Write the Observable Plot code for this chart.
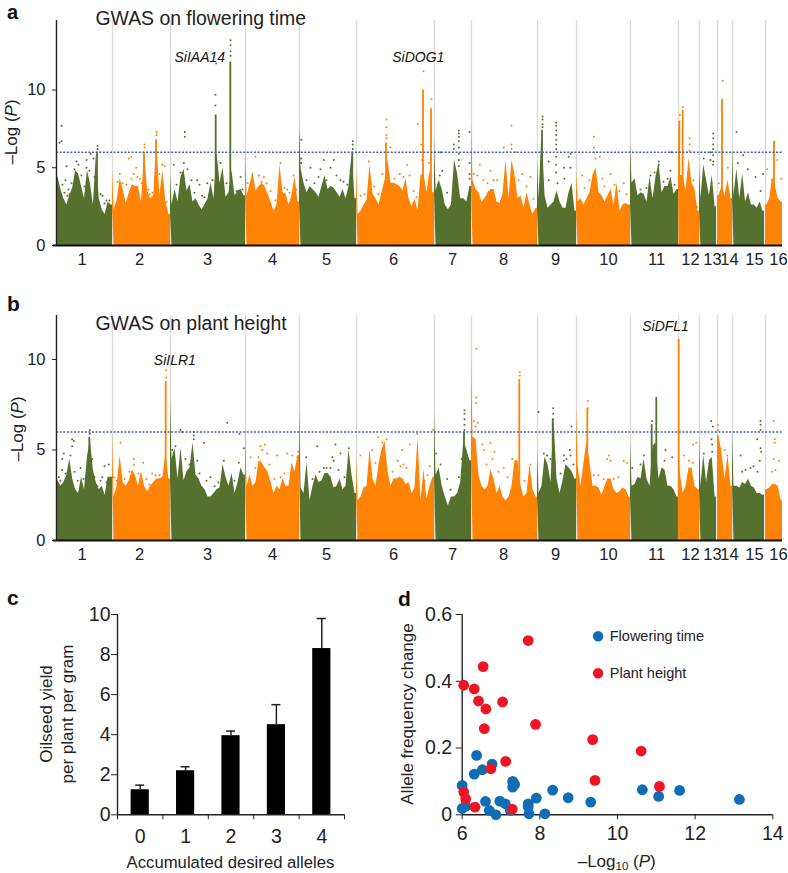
<!DOCTYPE html>
<html>
<head>
<meta charset="utf-8">
<script src="https://cdn.jsdelivr.net/npm/d3@7"></script>
<script src="https://cdn.jsdelivr.net/npm/@observablehq/plot@0.6"></script>
<style>
html,body{margin:0;padding:0;background:#fff}
#page{position:relative;width:788px;height:873px;overflow:hidden;font-family:"Liberation Sans",sans-serif;color:#222}
#page>svg,#page>figure{position:absolute;margin:0}
.t{position:absolute;white-space:nowrap;line-height:1}
.letter{font-weight:bold;font-size:21px;color:#111;line-height:.8}
.rot{transform:translate(-50%,-50%) rotate(-90deg);font-size:17px;text-align:center}
.h{transform:translate(-50%,-50%);font-size:17px}
.s{font-size:11.5px;position:relative;top:3px}
</style>
</head>
<body>
<div id="page"></div>
<script>
// Chromosomes (shared genome position axis)
const chrNames = ["1","2","3","4","5","6","7","8","9","10","11","12","13","14","15","16"];
const chrStarts = [0,56,114,189,243,300,378,415,481,520,574,622,643,661,676,709];
const chrEnds   = [56,114,189,243,300,378,415,481,520,574,622,643,660,676,708,726];
const chrLabelPos = [25.7,83,151,216,270,337,396,447,499,552,600,634,656,673,698,722];
const green = "#56702d", orange = "#ff8305";

// Panel a: envelope of the dense point mass, chromosome by chromosome
const massA = [
 [4.4,3.6,3.0,2.6,3.2,3.7,4.8,4.6,3.8,3.0,4.8,4.0,2.6,5.8,3.0,2.3,2.0,2.8,2.6],
 [2.3,2.9,4.3,3.6,2.7,3.4,3.9,3.8,3.8,2.8,6.0,3.5,3.0,3.2,6.8,3.2,4.8,2.8,2.0],
 [2.6,3.6,2.8,4.4,4.9,3.5,3.9,2.8,3.0,2.6,2.3,2.6,3.0,4.0,3.0,6.0,4.0,5.0,3.1,3.4,4.8,3.2,3.5,3.6,3.2],
 [3.2,3.9,4.7,3.5,3.8,4.0,3.8,3.3,2.8,2.2,2.6,5.2,3.4,3.3,2.6,3.2,4.4,2.8],
 [5.0,4.0,3.4,3.8,3.6,3.4,3.1,3.8,4.5,3.6,3.8,3.7,3.4,3.1,3.6,3.0,3.8,5.9,3.0],
 [2.0,2.2,2.6,2.9,5.2,3.3,3.0,2.6,3.4,4.2,5.5,4.0,4.0,3.9,3.8,3.5,4.3,3.0,2.5,3.0,2.2,4.5,4.6,3.4,4.8,3.4],
 [3.5,4.2,3.6,2.6,2.3,2.6,5.5,4.6,3.0,3.0,2.8,3.8],
 [4.2,3.6,3.4,2.8,3.0,3.4,3.6,3.6,2.8,2.7,3.3,5.5,3.0,5.5,4.5,3.0,3.2,2.4,3.4,2.6,2.0,2.4],
 [3.0,7.4,3.2,2.4,2.6,2.8,3.5,2.8,2.4,2.4,3.4,4.0,2.2],
 [2.8,3.0,2.6,3.0,3.4,4.5,5.0,3.4,3.2,2.8,3.2,3.6,2.6,4.0,2.2,2.6,2.7,2.6],
 [4.0,4.3,3.2,3.4,3.3,2.8,4.4,3.0,4.4,5.3,3.4,3.8,3.8,4.4,3.3,3.6],
 [4.5,4.5,3.5,5.6,4.0,3.6,2.2],
 [3.0,5.2,4.2,3.2,4.5,2.5],
 [3.2,3.8,3.2,4.2,3.0],
 [3.2,4.9,3.0,4.6,2.8,3.4,2.6,2.6,2.4,2.8,2.2],
 [2.6,3.0,4.4,3.8,3.0,2.8]
];
const spikesA = [[174.3,11.8],[159.7,8.4],[330,6.6],[367,10],[375,8.8],[623.3,8],[626.7,8.7],[666,9.4],[718,6.7],[41,6],[296.3,6],[486,7.4],[100,6.8],[88,6]];
const outliersA = [
 [3,6.6],[5,6.7],[5,7.7],[10,5.1],[20,5.4],[22,5.2],[30,5.5],[30,5],[34,5.9],[37,5.6],[41,6.4],[41,6.2],[15,4],[12,3.6],[9,4.2],[11,3.2],[33,4.8],[46,3.2],[50,2.9],[53,2.9],
 [6,3.9],[8,3.4],[13,3.3],[18,4.9],[25,4.5],[28,3.8],[38,4.4],[44,3.3],[48,2.7],
 [72.3,5.6],[74.7,5.7],[79.7,5],[88,6.5],[88,6.3],[100,7.3],[100,7.1],[105.7,5.2],[108,5.1],[63.3,4.6],[77.3,4.6],[83.3,4.3],[93.3,3.3],[104,3.6],
 [61,4.1],[66,4],[70,3.9],[75,4.3],[81,4.4],[85,4],[92,3.6],[96,3.4],[103,4.6],[110,2.8],
 [128.3,7.3],[128.3,7],[127.3,5.3],[117.3,5.2],[159,9.7],[159,9],[159.7,11.7],[174,13.2],[174,12.9],[174,12.5],[174,12.2],[140.7,4.2],[150.7,4],[184,4.4],[145.7,3.2],
 [120,3.9],[124,4.7],[131,4.9],[135,4.2],[138,3.4],[143,3.9],[148,3.1],[153,3.2],[156,4.2],[164,5.3],[170,4],[180,3.5],[186,3.6],
 [199,5.7],[224,5.3],[207.3,4.4],[202.3,4.5],[237.3,4.5],[230.7,3.6],
 [191,4],[196,4.6],[205,4.1],[210,4],[214,3.5],[219,2.9],[228,3.7],[233,3.4],[240,3.6],
 [244.7,6.8],[244.7,5.6],[244.7,5.3],[254,5],[267.3,5.5],[274,5],[277.3,5.5],[296.3,6.7],[296.3,6.5],[296.3,6.2],[294,4.8],[264,4.9],[284,4.2],
 [250,4.2],[258,4],[262,4.4],[270,4.2],[280,4.5],[287,4.1],[291,3.9],
 [330,8.1],[330,7.6],[330,7.1],[330,6.9],[334,6.3],[350.7,5.2],[343.3,4.6],[361.3,7.8],[364.7,6.5],[367,11.2],[375,9.4],[365.7,5.5],[372.3,5.3],[312.3,5.4],
 [304,3.2],[308,3.3],[318,3.8],[322,3.3],[326,4.6],[338,4.3],[347,4.4],[353,4.5],[357,3.5],[360,3.1],
 [384,6],[397.3,6.5],[397.3,6.2],[402.3,7.4],[402.3,7.2],[402.3,7],[402.3,6.7],[402.3,6.3],[402.3,5.9],[402.3,5.5],[402.3,5.1],[413,7.3],[413,5.3],[413,4.6],[413,4.3],[385.7,4.8],[383.3,4.5],[390.7,3.4],[393.3,2.4],
 [455,7.7],[455,6.5],[455,6.2],[447.3,6.3],[423.3,5.2],[434,4.8],[417.3,4.6],[440.7,4.2],[465.7,4.6],[474,4.4],[459,6],
 [421,4.5],[427,4.2],[431,4],[437,4.2],[462,4.2],[470,3.8],[477,3],
 [486,8.3],[486,8.1],[486,7.8],[486,7.6],[499.7,7.9],[499.7,7.7],[499.7,7.4],[499.7,7.1],[499.7,6.8],[499.7,6.5],[499.7,6.2],[499.7,5.7],[499.7,5.2],[499.7,4.7],[492.3,5.4],[492.3,4.2],[507.3,5],[514,5.9],[512.3,5.7],[514,5],[508,4.3],[501,4],
 [537.3,7],[537.3,6.3],[537.3,6],[539,5.6],[543.3,5.7],[525.7,4.5],[554,4.6],[545.7,4.3],[567.3,4],
 [528,3.7],[533,4.2],[548,3.8],[558,3.9],[563,3.5],[570,3.3],
 [602.3,5.4],[614.7,6],[614,4.8],[594,4.5],[602.3,5.2],
 [584,3.6],[590,3.7],[598,4.7],[607,4.1],[611,4.3],[618,3.9],
 [626.7,8.9],[623.3,8.4],[633,6.9],[633,6.5],[633,6.1],[636.7,4.2],[640.7,2.5],
 [656.7,7.2],[656.7,6.9],[656.7,6.5],[656.7,6.2],[656.7,5.8],[656.7,5.4],[656.7,5.2],[647.3,5.6],[654,5.5],[654,6],
 [666.3,10.6],[671.3,5],[662.3,4],
 [680,7.3],[686.7,5.8],[681.3,5.3],[691.3,4.9],[706.7,4.6],[699,4.4],[704,3.5],
 [718,6.6],[710.7,4.9],[720.7,5.5],[724.7,4.3],[715.7,4.2]
];

// Panel b
const massB = [
 [3.3,3.0,3.2,3.6,4.5,3.4,2.8,2.6,3.5,2.8,4.6,5.6,3.9,3.2,2.8,3.0,2.5,3.5,3.5],
 [2.4,3.0,4.7,3.2,3.0,3.3,3.9,3.6,3.0,3.8,3.0,2.7,3.0,3.2,3.4,3.4,3.5,4.8,3.4],
 [4.5,5.1,3.4,5.1,3.3,3.8,4.0,5.4,3.6,3.4,3.0,2.8,2.4,2.4,2.6,2.8,2.9,4.2,3.5,3.0,3.7,2.6,3.2,4.0,3.6],
 [3.0,3.6,3.0,3.2,4.4,4.3,4.0,3.8,3.2,2.6,3.0,2.8,3.4,3.0,3.0,4.3,3.8,4.7],
 [2.9,2.6,4.3,2.2,3.0,3.6,3.2,3.3,3.7,3.7,3.5,2.9,3.0,3.4,2.8,3.0,5.0,3.6,2.6],
 [2.2,2.4,2.9,3.0,5.0,3.4,3.0,4.2,5.0,5.5,3.8,3.0,3.4,3.4,3.5,3.4,3.1,3.2,2.6,2.9,5.7,2.2,3.9,2.3,3.0,3.5],
 [3.6,4.0,3.0,2.4,1.9,2.4,2.4,2.6,3.2,5.5,5.0,4.4],
 [5.7,5.6,3.6,3.0,2.8,3.0,3.9,3.4,2.6,3.0,2.4,2.2,2.4,3.0,4.4,4.4,3.0,2.4,2.6,4.2,2.8,2.4],
 [2.6,3.0,4.6,4.2,3.2,6.7,3.4,2.6,3.3,4.2,4.0,3.8,3.4],
 [4.1,3.0,4.3,5.5,4.3,3.0,3.0,2.9,2.5,3.0,3.4,3.4,2.8,2.6,2.7,2.9,2.8,2.4],
 [3.0,3.1,3.5,3.4,4.5,3.4,3.0,5.2,5.4,3.4,4.0,3.9,3.0,3.0,2.8,2.4],
 [3.9,2.6,3.0,4.0,4.0,3.0,2.8],
 [3.0,4.7,3.2,4.4,4.6,2.4],
 [5.8,4.8,3.4,4.7,3.0],
 [3.0,3.0,2.9,3.2,3.1,3.4,3.0,2.9,2.6,2.6,2.5],
 [2.8,2.9,3.1,3.1,3.0,2.2]
];
const spikesB = [[109.7,8.8],[33.3,5.7],[463.3,8.9],[531.3,7.3],[600.3,7.9],[595.7,6.4],[622.7,11.1],[408,6],[496.7,6.7]];
const outliersB = [
 [33.3,6.1],[33.3,5.9],[17.3,5.5],[15.7,5.6],[15.7,5.2],[7.3,4.8],[5.7,4.5],[14,4.7],[24,4],[48,4.1],[52.3,4.2],[35.7,4.5],[45.7,3.5],[44,3.3],[2.3,3.5],[5.7,3.9],[21.3,3.3],
 [4,3.3],[9,3.7],[18,3.8],[27,3.4],[38,3.5],[41,3],[50,3.2],
 [64,5.4],[77.3,4.5],[86.7,4.3],[57.3,3.5],[95.7,3.7],[99,3.6],[77.3,4.2],[109.7,9.4],[109.7,9],
 [60,3.3],[68,3.4],[73,3.8],[82,3.7],[90,3.4],[93,3.1],[103,3.6],
 [125.7,6],[124,6.1],[137.3,6],[137.3,5.8],[137.3,5.6],[147.3,5.4],[170.7,6.5],[183,5.9],[187.3,5.1],[115.7,5],[119,5.2],[129,4.5],[140.7,4.4],[167.3,4.4],[182.3,4.3],[154,3.5],
 [133,4.2],[143,3.7],[150,3.3],[158,3],[162,3.2],[175,3.4],[178,3.3],
 [204,5.2],[208.3,5.3],[194,4.6],[210.7,4.8],[230.7,4.8],[235.7,4.7],[241.7,4.9],[220.7,4.7],[240.7,4.6],[205.7,5],
 [199,4],[202,4.6],[213,4.2],[218,3.4],[224,3.5],[228,3.7],
 [260.7,5.2],[279,5.3],[275.7,4.6],[277.3,4.4],[284,4.8],[249.7,4.6],[267.3,4],[274,4],[292.3,5.1],
 [256,3.4],[263,3.8],[270,4],[282,3.9],[288,3.5],
 [304,4.7],[321.7,5.7],[325.7,5.4],[330,5.6],[315.7,5],[345.7,5],[353.3,5.3],[360.7,5.9],[376.7,6.1],[373.3,4.1],[341.3,4.4],[350,4],
 [319,4.3],[336,3.8],[344,4.1],[347,4.2],[368,3.3],[371,3.6],
 [379.7,4.8],[384,4.2],[390.7,3.4],[402.3,3.5],[408,7.2],[408,7],[408,6.7],[408,6.4],[408,6.1],[405,4.5],[394,2.8],
 [420,10.6],[419.7,7.9],[419.7,7.6],[417.3,6.6],[421.3,6.5],[419,6.3],[434,5.4],[427.3,5],[438,4.9],[425.7,5.3],[455.7,4.5],[447.3,4],[463.3,9.3],[463.3,9.1],[474,4.2],
 [430,4.2],[436,4.5],[442,3.8],[451,3.5],[468,3.3],
 [482,7.1],[496.7,7.3],[496.7,7],[496.7,6.7],[515,6.3],[487.3,4.8],[490.7,4.7],[507.3,4.7],[513.3,5],[514,4.7],[507.3,4.4],[494,4.5],
 [504,3.7],[510,4.5],[517,4.2],
 [531.3,7.7],[531.3,7.3],[552.3,4.7],[554,4.4],[550.7,4.5],[567.3,4.4],[570.7,4.3],[537.3,3.6],[547.3,3.4],
 [542,3.6],[557,3.4],[562,3.5],
 [595.7,6.6],[609,5],[615.7,4.6],[608,4.4],[587.3,4.7],[575.7,4],[584,4.2],
 [636.7,5.3],[639.7,5.4],[636.7,4.3],[632.3,4.4],[627.3,4.7],
 [654.7,6.6],[656.3,6.3],[655,5.6],[655.7,5.3],[655.7,4.9],[647.3,4.8],
 [661.3,6.4],[661.3,6.1],[668.3,5],[664,5.1],[670.7,4.7],
 [704,6.6],[704,6.4],[704,6.1],[700.7,5.6],[704,5.1],[704.7,4.9],[703.3,4.4],[684,4.7],[694,4],[685.7,3.8],
 [689,3.9],[697,4.1],[701,3.8],
 [717.3,6.6],[718.3,5.6],[718.3,5.4],[717.3,4.5],[722.3,4.4],[719,3.9],[715.7,3.8]
];

// Panel c
const alleles = [0,1,2,3,4];
const yieldMean = [1.25,2.2,3.95,4.5,8.3];
const yieldTop  = [1.48,2.4,4.18,5.5,9.8];

// Panel d
const floweringP = [6.0,6.0,6.09,6.31,6.37,6.52,6.77,6.6,6.7,6.87,6.97,7.11,7.24,7.3,7.35,7.3,7.7,7.72,7.7,7.91,8.13,8.33,8.73,9.31,10.64,11.06,11.6,13.14];
const floweringF = [.088,.019,.026,.122,.178,.135,.152,.04,.013,0,.041,.033,.013,.1,.091,.083,.033,.003,.025,.05,.003,.074,.051,.038,.075,.055,.073,.046];
const heightP = [7.7,6.54,6.04,6.31,6.42,6.61,7.04,6.57,7.89,9.36,10.61,7.12,6.74,9.42,11.08,6.04,6.09,6.33,7.29];
const heightF = [.522,.444,.388,.377,.341,.317,.338,.258,.271,.225,.191,.16,.138,.103,.085,.068,.048,.023,.017];
const blue = "#0f6db6", red = "#ee1424";
const textCol = "#222";
const font = '"Liberation Sans",sans-serif';

const page = document.getElementById("page");
function place(svg,left,top){svg.style.left=left+"px";svg.style.top=top+"px";svg.style.position="absolute";page.appendChild(svg);}
function label(cls,html,x,y,extra){const d=document.createElement("div");d.className="t "+cls;d.innerHTML=html;d.style.left=x+"px";d.style.top=y+"px";if(extra)Object.assign(d.style,extra);page.appendChild(d);}

const colorOf = i => i%2===0 ? green : orange;
const chrIndex = p => Math.min(15,d3.bisectRight(chrStarts,p)-1);

function manhattan({mass,spikes,outliers,height,marginTop,marginBottom,top,title,titleY,genes,threshold}){
  const skyline = mass.flatMap((hs,c)=>{
    const w=(chrEnds[c]-chrStarts[c])/hs.length;
    const inner=hs.map((h,j)=>({x:chrStarts[c]+(j+.5)*w,h,c,color:colorOf(c)}));
    return [{x:chrStarts[c],h:hs[0],c,color:colorOf(c)},...inner,{x:chrEnds[c],h:hs[hs.length-1],c,color:colorOf(c)}];
  });
  const yMax = top;
  return Plot.plot({
    width:788,height,marginLeft:56,marginRight:6,marginTop,marginBottom,
    style:{fontFamily:font,fontSize:"16.5px",color:textCol,background:"transparent"},
    x:{domain:[0,726],axis:null},
    y:{domain:[0,yMax],axis:null},
    marks:[
      Plot.ruleX(chrStarts.slice(1),{y1:0,y2:yMax,stroke:"#dcdcdc",strokeWidth:1.4}),
      Plot.areaY(skyline,{x:"x",y:"h",z:"c",fill:"color",curve:"linear"}),
      Plot.rect(spikes,{x1:d=>d[0]-0.9,x2:d=>d[0]+0.9,y1:0,y2:d=>d[1],fill:d=>colorOf(chrIndex(d[0]))}),
      Plot.dot(outliers,{x:d=>d[0],y:d=>d[1],r:1,fill:d=>colorOf(chrIndex(d[0])),stroke:"none"}),
      Plot.ruleY([threshold],{x1:0,x2:726,stroke:"#3f62b4",strokeWidth:1.5,strokeDasharray:"2,1.6"}),
      Plot.ruleX([0],{y1:0,y2:yMax,stroke:"#222",strokeWidth:1.4}),
      Plot.ruleY([0],{x1:-3,x2:726,stroke:"#111",strokeWidth:1.8}),
      Plot.axisY({ticks:[0,5,10],tickSize:4,tickPadding:7,tickFormat:d=>d,fontSize:16.5,label:null,stroke:"#222"}),
      Plot.text(chrNames,{x:(d,i)=>chrLabelPos[i],y:0,dy:14,fontSize:16.5,fill:textCol}),
      Plot.text([title],{x:39,y:titleY,textAnchor:"start",fontSize:19.4,fill:textCol}),
      Plot.text(genes,{x:d=>d.pos,y:d=>d.val,text:d=>d.name,textAnchor:"start",fontStyle:"italic",fontSize:14,fill:"#111"})
    ]
  });
}

place(manhattan({mass:massA,spikes:spikesA,outliers:outliersA,height:280,marginTop:20,marginBottom:35,top:14.47,
  title:"GWAS on flowering time",titleY:14.6,threshold:6,
  genes:[{name:"SiIAA14",pos:118,val:12.1},{name:"SiDOG1",pos:335.7,val:12.1}]}),0,0);
place(manhattan({mass:massB,spikes:spikesB,outliers:outliersB,height:285,marginTop:30,marginBottom:30,top:12.43,
  title:"GWAS on plant height",titleY:12,threshold:6,
  genes:[{name:"SiILR1",pos:97.3,val:9.94},{name:"SiDFL1",pos:585.7,val:11.8}]}),0,285);

// Panel c
const cBars = alleles.map((a,i)=>({a,v:yieldMean[i],t:yieldTop[i]}));
place(Plot.plot({
  width:380,height:293,marginLeft:117,marginRight:36,marginTop:34,marginBottom:58.7,
  style:{fontFamily:font,fontSize:"19.5px",color:textCol,background:"transparent"},
  x:{domain:[0,5],axis:null},
  y:{domain:[0,10],axis:null},
  marks:[
    Plot.rect(cBars,{x1:d=>d.a+0.3,x2:d=>d.a+0.7,y1:0,y2:"v",fill:"#000"}),
    Plot.ruleX(cBars,{x:d=>d.a+0.5,y1:"v",y2:"t",stroke:"#222",strokeWidth:1.5}),
    Plot.ruleY(cBars,{y:"t",x1:d=>d.a+0.4,x2:d=>d.a+0.6,stroke:"#222",strokeWidth:1.5}),
    Plot.ruleX([0],{y1:0,y2:10,stroke:"#222",strokeWidth:1.4}),
    Plot.ruleY([0],{x1:0,x2:5,stroke:"#222",strokeWidth:1.4}),
    Plot.axisY({ticks:[0,2,4,6,8,10],tickSize:6,tickPadding:1,tickFormat:d=>d,fontSize:19.5,label:null}),
    Plot.axisX({ticks:[0,1,2,3,4,5],tickSize:5,tickFormat:()=>"",label:null}),
    Plot.text(alleles,{x:d=>d+0.5,y:0,dy:22,fontSize:19.5,fill:textCol})
  ]
}),0,580);

// Panel d
const flowering = floweringP.map((p,i)=>({p,f:floweringF[i]}));
const plantH = heightP.map((p,i)=>({p,f:heightF[i]}));
place(Plot.plot({
  width:398,height:293,marginLeft:71.7,marginRight:15.7,marginTop:34,marginBottom:58.7,
  style:{fontFamily:font,fontSize:"19.5px",color:textCol,background:"transparent"},
  x:{domain:[6,14],axis:null},
  y:{domain:[0,0.6],axis:null},
  marks:[
    Plot.ruleX([6],{y1:0,y2:0.6,stroke:"#222",strokeWidth:1.4}),
    Plot.ruleY([0],{x1:6,x2:14,stroke:"#222",strokeWidth:1.4}),
    Plot.axisY({ticks:[0,0.2,0.4,0.6],tickSize:6,tickPadding:4,tickFormat:d=>d,fontSize:19.5,label:null}),
    Plot.axisX({ticks:[6,8,10,12,14],tickSize:5,tickPadding:6,tickFormat:d=>d,fontSize:19.5,label:null}),
    Plot.dot(flowering,{x:"p",y:"f",r:5.4,fill:blue,stroke:"none"}),
    Plot.dot(plantH,{x:"p",y:"f",r:5.4,fill:red,stroke:"none"}),
    Plot.dot([{n:"Flowering time",y:0.535,c:blue},{n:"Plant height",y:0.424,c:red}],{x:9.5,y:"y",fill:"c",r:5.2,stroke:"none"}),
    Plot.text([{n:"Flowering time",y:0.535},{n:"Plant height",y:0.424}],{x:9.8,y:"y",text:"n",textAnchor:"start",fontSize:14.5,fill:textCol})
  ]
}),390,580);

// Panel letters and axis titles
label("letter","a",7,3.5,{fontSize:"20px"});
label("letter","b",7,296);
label("letter","c",7,590);
label("letter","d",398,591);
label("rot","&ndash;Log (<i>P</i>)",11,132);
label("rot","&ndash;Log (<i>P</i>)",17,429);
label("rot","Oilseed yield",46,714);
label("rot","per plant per gram",67,714);
label("h","Accumulated desired alleles",230.5,862.5,{fontSize:"16.7px"});
label("rot","Allele frequency change",406.7,714);
label("h","&ndash;Log<span class=\"s\">10</span> (<i>P</i>)",616.7,861);
</script>
</body>
</html>
